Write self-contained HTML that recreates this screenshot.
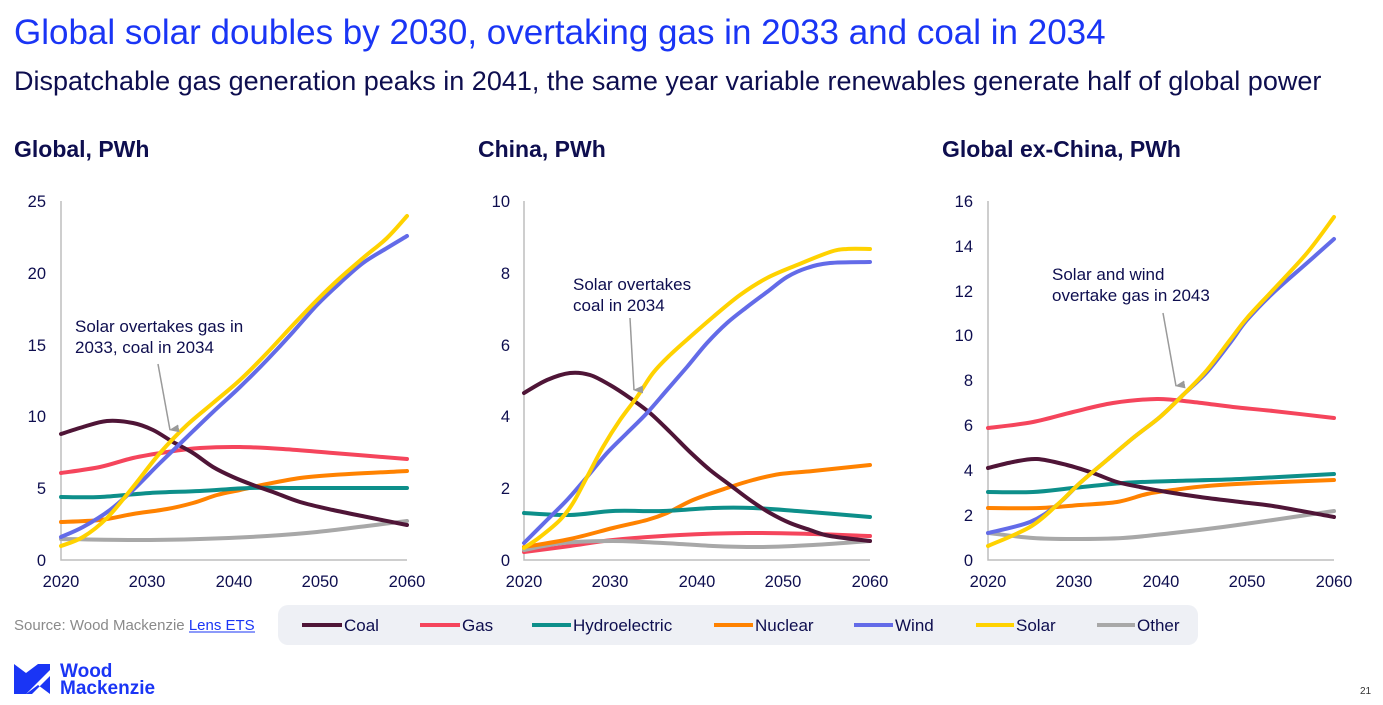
<!DOCTYPE html>
<html><head><meta charset="utf-8"><style>
body{margin:0;background:#fff;}
svg{display:block;font-family:"Liberation Sans",Arial,sans-serif;}
.t{fill:#0e0e4f;font-size:16.5px}
.a{fill:#0e0e4f;font-size:17px}
.p{fill:none;stroke-width:4;stroke-linejoin:round;stroke-linecap:round}
</style></head><body>
<svg id="s" width="1383" height="705" viewBox="0 0 1383 705" xmlns="http://www.w3.org/2000/svg">
<defs><marker id="ah" markerWidth="8" markerHeight="10" refX="4" refY="9" orient="auto-start-reverse" markerUnits="userSpaceOnUse"><path d="M0,0 L8,0 L4,10 Z" fill="#9a9a9a"/></marker></defs>
<text x="14" y="44" font-size="35" fill="#1a35f5">Global solar doubles by 2030, overtaking gas in 2033 and coal in 2034</text>
<text x="14" y="90" font-size="27" fill="#0e0e4f">Dispatchable gas generation peaks in 2041, the same year variable renewables generate half of global power</text>
<text x="14" y="157" font-size="23" font-weight="bold" fill="#0e0e4f">Global, PWh</text>
<text x="478" y="157" font-size="23" font-weight="bold" fill="#0e0e4f">China, PWh</text>
<text x="942" y="157" font-size="23" font-weight="bold" fill="#0e0e4f">Global ex-China, PWh</text>

<g>
<path d="M61,201V560H407" stroke="#bdbdbd" stroke-width="1.5" fill="none"/>
<g class="t" text-anchor="end"><text x="46" y="207">25</text><text x="46" y="279">20</text><text x="46" y="351">15</text><text x="46" y="422">10</text><text x="46" y="494">5</text><text x="46" y="566">0</text></g>
<g class="t" text-anchor="middle"><text x="61" y="587">2020</text><text x="147" y="587">2030</text><text x="234" y="587">2040</text><text x="320" y="587">2050</text><text x="407" y="587">2060</text></g>
<polyline class="p" stroke="#a8a8a8" points="61,539 133,540 200,539 267,536 317,532 367,526 407,521"/>
<polyline class="p" stroke="#ff8200" points="61,522 100,520 133,514 167,509 193,503 217,495 240,490 267,484 300,478 333,475 407,471"/>
<polyline class="p" stroke="#0d8f8a" points="61,497 100,497 150,493 200,491 250,488 300,488 407,488"/>
<polyline class="p" stroke="#f5455c" points="61,473 100,467 133,458 167,452 200,448 240,447 283,449 333,453 407,459"/>
<polyline class="p" stroke="#4f1537" points="61,434 83,427 107,421 133,423 153,430 173,442 193,453 213,467 233,477 253,485 273,492 300,502 333,510 367,517 407,525"/>
<polyline class="p" stroke="#636be8" points="61,537 83,527 110,510 133,490 160,463 187,437 213,412 240,387 267,360 293,332 317,305 340,283 363,263 387,248 407,236"/>
<polyline class="p" stroke="#ffd200" points="61,546 83,537 107,518 133,487 160,453 187,425 213,403 240,380 267,353 293,325 317,300 340,278 363,258 387,238 407,216"/>
<text class="a" x="75" y="332">Solar overtakes gas in</text><text class="a" x="75" y="353">2033, coal in 2034</text>
<line x1="158" y1="364" x2="170" y2="430" stroke="#9a9a9a" stroke-width="1.5" marker-end="url(#ah)"/>
</g>

<g>
<path d="M524,201V560H870" stroke="#bdbdbd" stroke-width="1.5" fill="none"/>
<g class="t" text-anchor="end"><text x="510" y="207">10</text><text x="510" y="279">8</text><text x="510" y="351">6</text><text x="510" y="422">4</text><text x="510" y="494">2</text><text x="510" y="566">0</text></g>
<g class="t" text-anchor="middle"><text x="524" y="587">2020</text><text x="610" y="587">2030</text><text x="697" y="587">2040</text><text x="783" y="587">2050</text><text x="870" y="587">2060</text></g>
<polyline class="p" stroke="#f5455c" points="524,552 570,546 613,540 680,535 747,533 813,534 870,536"/>
<polyline class="p" stroke="#a8a8a8" points="524,550 563,543 613,541 663,543 713,546 763,547 813,545 870,541"/>
<polyline class="p" stroke="#ff8200" points="524,547 570,539 613,528 647,520 667,513 693,500 727,488 753,480 780,474 813,471 870,465"/>
<polyline class="p" stroke="#0d8f8a" points="524,513 570,515 613,511 663,511 713,508 753,508 797,511 870,517"/>
<polyline class="p" stroke="#4f1537" points="524,393 547,380 570,373 590,375 610,385 630,398 650,413 670,432 690,452 710,470 730,485 750,500 770,513 790,523 810,530 830,536 870,541"/>
<polyline class="p" stroke="#636be8" points="524,543 547,520 567,500 587,477 607,453 627,433 647,413 667,390 687,367 707,343 727,323 747,307 767,292 787,277 807,268 830,263 870,262"/>
<polyline class="p" stroke="#ffd200" points="524,548 540,537 560,520 573,503 587,477 603,447 620,420 637,397 653,373 670,355 690,337 713,317 740,295 767,278 797,265 830,252 847,249 870,249"/>
<text class="a" x="573" y="290">Solar overtakes</text><text class="a" x="573" y="311">coal in 2034</text>
<line x1="630" y1="318" x2="634" y2="390" stroke="#9a9a9a" stroke-width="1.5" marker-end="url(#ah)"/>
</g>

<g>
<path d="M988,201V560H1334" stroke="#bdbdbd" stroke-width="1.5" fill="none"/>
<g class="t" text-anchor="end"><text x="973" y="207">16</text><text x="973" y="252">14</text><text x="973" y="297">12</text><text x="973" y="341">10</text><text x="973" y="386">8</text><text x="973" y="431">6</text><text x="973" y="476">4</text><text x="973" y="521">2</text><text x="973" y="566">0</text></g>
<g class="t" text-anchor="middle"><text x="988" y="587">2020</text><text x="1074" y="587">2030</text><text x="1161" y="587">2040</text><text x="1247" y="587">2050</text><text x="1334" y="587">2060</text></g>
<polyline class="p" stroke="#a8a8a8" points="988,533 1033,538 1073,539 1123,538 1173,533 1223,527 1273,520 1334,511"/>
<polyline class="p" stroke="#ff8200" points="988,508 1040,508 1080,505 1117,502 1147,494 1173,490 1207,486 1257,483 1334,480"/>
<polyline class="p" stroke="#0d8f8a" points="988,492 1033,492 1073,488 1123,483 1173,481 1240,479 1334,474"/>
<polyline class="p" stroke="#4f1537" points="988,468 1013,462 1037,459 1067,465 1093,473 1117,482 1140,487 1167,492 1200,497 1240,502 1273,506 1334,517"/>
<polyline class="p" stroke="#f5455c" points="988,428 1033,422 1073,412 1113,403 1157,399 1193,402 1233,407 1273,411 1334,418"/>
<polyline class="p" stroke="#636be8" points="988,533 1030,522 1057,505 1080,483 1107,460 1133,438 1160,417 1183,395 1207,372 1230,343 1247,320 1273,293 1307,263 1334,239"/>
<polyline class="p" stroke="#ffd200" points="988,546 1030,527 1057,505 1080,483 1107,460 1133,438 1160,417 1183,395 1207,370 1230,340 1247,318 1273,290 1307,253 1334,217"/>
<text class="a" x="1052" y="280">Solar and wind</text><text class="a" x="1052" y="301">overtake gas in 2043</text>
<line x1="1163" y1="313" x2="1176" y2="386" stroke="#9a9a9a" stroke-width="1.5" marker-end="url(#ah)"/>
</g>

<text x="14" y="630" font-size="15" fill="#8a8a8a">Source: Wood Mackenzie <tspan fill="#1a35f5">Lens ETS</tspan></text>
<line x1="189" y1="632" x2="255" y2="632" stroke="#1a35f5" stroke-width="1"/>
<rect x="278" y="605" width="920" height="40" rx="10" fill="#eef0f5"/>
<g font-size="17" fill="#0e0e4f">
<line x1="302" y1="625" x2="342" y2="625" stroke="#4f1537" stroke-width="4"/><text x="344" y="631">Coal</text>
<line x1="420" y1="625" x2="460" y2="625" stroke="#f5455c" stroke-width="4"/><text x="462" y="631">Gas</text>
<line x1="532" y1="625" x2="571" y2="625" stroke="#0d8f8a" stroke-width="4"/><text x="573" y="631">Hydroelectric</text>
<line x1="714" y1="625" x2="753" y2="625" stroke="#ff8200" stroke-width="4"/><text x="755" y="631">Nuclear</text>
<line x1="854" y1="625" x2="893" y2="625" stroke="#636be8" stroke-width="4"/><text x="895" y="631">Wind</text>
<line x1="976" y1="625" x2="1014" y2="625" stroke="#ffd200" stroke-width="4"/><text x="1016" y="631">Solar</text>
<line x1="1097" y1="625" x2="1135" y2="625" stroke="#a8a8a8" stroke-width="4"/><text x="1137" y="631">Other</text>
</g>
<g fill="#1a35f5">
<path d="M14,664 L26,673 L38,664 L50,664 L50,694 L38,685 L26,694 L14,694 Z M26,694 L50,670 L50,676 L32,694 Z" fill-rule="evenodd"/>
<text x="60" y="677" font-size="19" font-weight="bold">Wood</text>
<text x="60" y="694" font-size="19" font-weight="bold">Mackenzie</text>
</g>
<text x="1360" y="694" font-size="10" fill="#333">21</text>
</svg>
<script>
document.querySelectorAll('polyline.p').forEach(function(pl){
  var pts=pl.getAttribute('points').trim().split(/\s+/).map(function(s){return s.split(',').map(Number);});
  var d='M'+pts[0][0]+','+pts[0][1];
  for(var i=0;i<pts.length-1;i++){
    var p0=pts[i-1]||pts[i],p1=pts[i],p2=pts[i+1],p3=pts[i+2]||p2;
    var c1x=p1[0]+(p2[0]-p0[0])/6,c1y=p1[1]+(p2[1]-p0[1])/6;
    var c2x=p2[0]-(p3[0]-p1[0])/6,c2y=p2[1]-(p3[1]-p1[1])/6;
    d+=' C'+c1x.toFixed(1)+','+c1y.toFixed(1)+' '+c2x.toFixed(1)+','+c2y.toFixed(1)+' '+p2[0]+','+p2[1];
  }
  var p=document.createElementNS('http://www.w3.org/2000/svg','path');
  p.setAttribute('d',d);p.setAttribute('class','p');p.setAttribute('stroke',pl.getAttribute('stroke'));
  pl.parentNode.replaceChild(p,pl);
});
</script>
</body></html>
